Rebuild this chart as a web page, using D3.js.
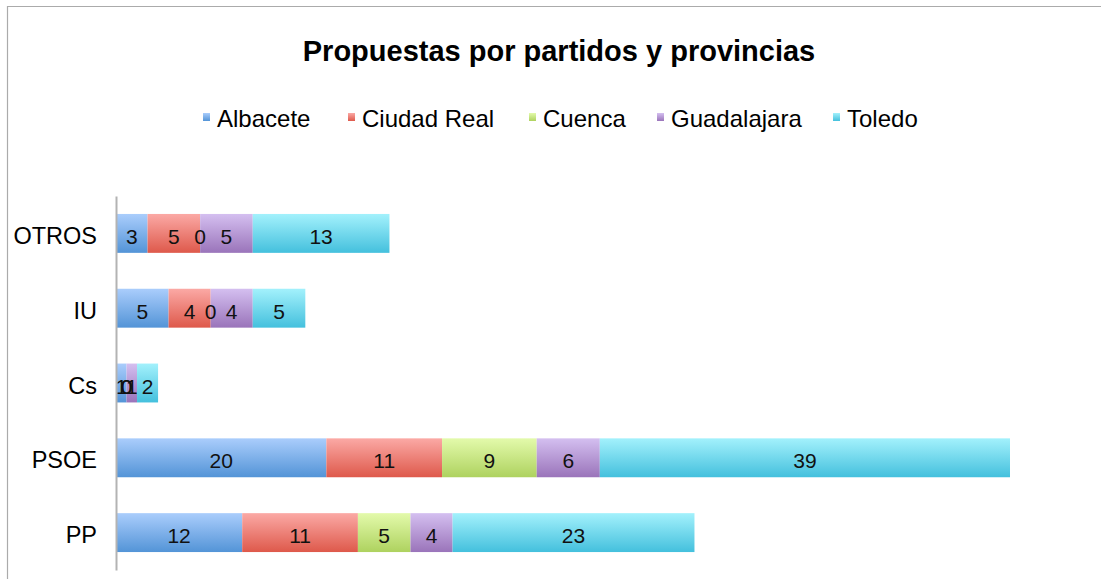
<!DOCTYPE html>
<html>
<head>
<meta charset="utf-8">
<script src="https://cdn.jsdelivr.net/npm/d3@7"></script>
<style>
  body { margin: 0; background: #fff; }
  text { font-family: "Liberation Sans", Arial, Helvetica, sans-serif; }
</style>
</head>
<body>
<script>
// datos
var partidos = ["OTROS", "IU", "Cs", "PSOE", "PP"];
var provincias = ["Albacete", "Ciudad Real", "Cuenca", "Guadalajara", "Toledo"];
var albacete = [3, 5, 1, 20, 12];
var ciudadReal = [5, 4, 0, 11, 11];
var cuenca = [0, 0, 0, 9, 5];
var guadalajara = [5, 4, 1, 6, 4];
var toledo = [13, 5, 2, 39, 23];

// colores de cada serie (arriba claro, abajo oscuro)
var colorTop = ["#aacdfc", "#fba9a5", "#e3faab", "#d4bff0", "#a3f1fc"];
var colorBottom = ["#5394d7", "#de594b", "#aed25f", "#9a74ba", "#44c0dd"];

var width = 1101,
    height = 579;

var svg = d3.select("body").append("svg")
  .attr("width", width)
  .attr("height", height);

var defs = svg.append("defs");
provincias.forEach(function(p, i) {
  var g = defs.append("linearGradient")
    .attr("id", "grad" + i)
    .attr("x1", 0).attr("y1", 0)
    .attr("x2", 0).attr("y2", 1);
  g.append("stop").attr("offset", "0%").attr("stop-color", colorTop[i]);
  g.append("stop").attr("offset", "100%").attr("stop-color", colorBottom[i]);
});

// marco
svg.append("path")
  .attr("d", "M7.5," + height + "V6.5H" + width)
  .attr("fill", "none")
  .attr("stroke", "#ababab")
  .attr("stroke-width", 1.2);

// titulo
svg.append("text")
  .attr("x", 559)
  .attr("y", 61)
  .attr("text-anchor", "middle")
  .style("font-size", "29px")
  .style("font-weight", "bold")
  .text("Propuestas por partidos y provincias");

// leyenda
var legendX = [203, 348, 529, 657, 833];
var legend = svg.append("g").selectAll("g")
  .data(provincias)
  .enter().append("g")
  .attr("transform", function(d, i) { return "translate(" + legendX[i] + ",0)"; });

legend.append("rect")
  .attr("x", 0)
  .attr("y", 113)
  .attr("width", 7)
  .attr("height", 8)
  .attr("fill", function(d, i) { return "url(#grad" + i + ")"; });

legend.append("text")
  .attr("x", 14)
  .attr("y", 127)
  .style("font-size", "24px")
  .text(function(d) { return d; });

// apilar los datos
var table = partidos.map(function(p, i) {
  return {
    partido: p,
    "Albacete": albacete[i],
    "Ciudad Real": ciudadReal[i],
    "Cuenca": cuenca[i],
    "Guadalajara": guadalajara[i],
    "Toledo": toledo[i]
  };
});

var series = d3.stack().keys(provincias)(table);

var maxTotal = d3.max(series[series.length - 1], function(d) { return d[1]; });

var x = d3.scaleLinear()
  .domain([0, maxTotal])
  .range([116, 1010]);

var y = d3.scaleBand()
  .domain(partidos)
  .range([196, 570])
  .paddingInner(0.48)
  .paddingOuter(0.24);

var layers = svg.append("g").selectAll("g")
  .data(series)
  .enter().append("g")
  .attr("fill", function(d, i) { return "url(#grad" + i + ")"; });

layers.selectAll("rect")
  .data(function(d) { return d; })
  .enter().append("rect")
  .attr("x", function(d) { return x(d[0]); })
  .attr("y", function(d) { return y(d.data.partido); })
  .attr("width", function(d) { return x(d[1]) - x(d[0]); })
  .attr("height", y.bandwidth());

// etiquetas de valores
var labels = svg.append("g");
series.forEach(function(s) {
  labels.selectAll(null)
    .data(s)
    .enter().append("text")
    .attr("x", function(d) { return (x(d[0]) + x(d[1])) / 2; })
    .attr("y", function(d) { return y(d.data.partido) + y.bandwidth() / 2 + 3; })
    .attr("dy", "0.36em")
    .attr("text-anchor", "middle")
    .style("font-size", "21px")
    .attr("fill", "#111")
    .text(function(d) { return d[1] - d[0]; });
});

// eje vertical
var yAxis = svg.append("g")
  .attr("transform", "translate(116,0)")
  .call(d3.axisLeft(y).tickSize(0).tickPadding(19));

yAxis.select(".domain")
  .attr("stroke", "#b3b3b3")
  .attr("stroke-width", 2);

yAxis.selectAll("text")
  .attr("dy", "0.45em")
  .style("font-size", "23.5px")
  .style("font-family", "'Liberation Sans', Arial, sans-serif")
  .attr("fill", "#000");
</script>
</body>
</html>
